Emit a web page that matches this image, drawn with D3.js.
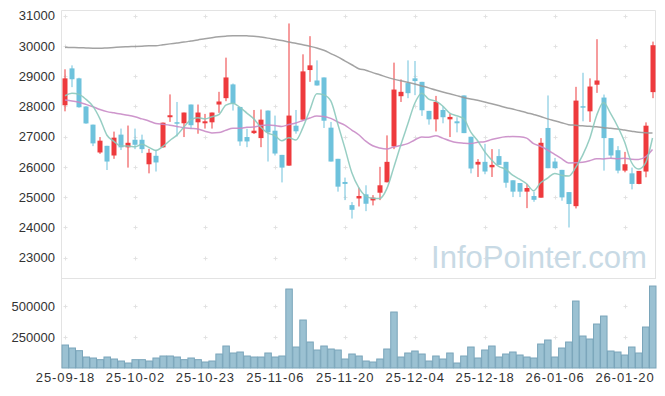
<!DOCTYPE html>
<html>
<head>
<meta charset="utf-8">
<script src="https://cdn.jsdelivr.net/npm/d3@7"></script>
<style>
  body { margin: 0; background: #fff; }
  text { font-family: "Liberation Sans", Arial, sans-serif; }
</style>
</head>
<body>
<svg id="chart" width="665" height="396"></svg>
<script>
// trading days shown on the chart
const dates = [
  '25-09-18','25-09-19','25-09-22','25-09-23','25-09-24','25-09-25','25-09-26','25-09-29','25-09-30','25-10-01',
  '25-10-02','25-10-10','25-10-13','25-10-14','25-10-15','25-10-16','25-10-17','25-10-20','25-10-21','25-10-22',
  '25-10-23','25-10-24','25-10-27','25-10-28','25-10-29','25-10-30','25-10-31','25-11-03','25-11-04','25-11-05',
  '25-11-06','25-11-07','25-11-10','25-11-11','25-11-12','25-11-13','25-11-14','25-11-17','25-11-18','25-11-19',
  '25-11-20','25-11-21','25-11-24','25-11-25','25-11-26','25-11-27','25-11-28','25-12-01','25-12-02','25-12-03',
  '25-12-04','25-12-05','25-12-08','25-12-09','25-12-10','25-12-11','25-12-12','25-12-15','25-12-16','25-12-17',
  '25-12-18','25-12-19','25-12-22','25-12-23','25-12-24','25-12-26','25-12-29','25-12-30','26-01-02','26-01-05',
  '26-01-06','26-01-07','26-01-08','26-01-09','26-01-12','26-01-13','26-01-14','26-01-15','26-01-16','26-01-19',
  '26-01-20','26-01-21','26-01-22','26-01-23','26-01-26'
];

const opens = [
  28040,29260,28930,28000,27400,26480,26700,26380,27070,26650,
  26900,26900,26090,26370,26650,27645,27480,27445,28065,27477,
  27445,27477,28065,28275,28730,27985,26990,27120,26955,27865,
  27200,26400,26045,27365,27565,29205,28860,28960,27300,26270,
  25505,24740,24960,25095,24895,25150,25495,26680,28340,28775,
  28930,28815,27855,27575,27885,27575,27510,28365,27000,26080,
  26170,25990,26360,26170,25560,25470,25185,25040,24985,27290,
  26180,25905,25170,24705,28010,27840,28720,28295,26955,26555,
  25880,25790,25440,25850,28475
];
const highs = [
  29230,29360,28950,28010,27400,26990,26700,27170,27270,27370,
  27270,27070,26600,26570,27470,28400,28150,27800,28065,28065,
  27755,27800,28485,29615,28760,27985,27265,27885,27900,27870,
  27700,26400,30745,27885,29725,30325,29525,28960,27490,26270,
  25650,24840,25315,25395,25070,26005,27045,29450,28895,29525,
  29505,28815,27855,28350,28010,27765,27645,28365,27000,26260,
  26765,26590,26590,26170,25560,25470,25440,25185,26955,28365,
  26300,25905,25170,28650,29115,28930,30225,28395,26955,26690,
  26500,25980,25870,27475,30145
];
const lows = [
  27840,28640,27960,27430,26690,26435,25900,26270,26560,25980,
  26590,26460,25790,25850,26640,27490,27010,26990,27270,27100,
  27270,27270,27790,28175,27865,26700,26655,27090,26655,26180,
  26380,25490,26040,27100,27560,28815,28690,27290,26180,25185,
  24905,24295,24695,24540,24730,24905,25490,26590,28150,28275,
  28375,27690,27400,27175,27445,26990,27145,27120,25790,25670,
  25760,25670,26065,25315,25005,25005,24640,24850,24985,25960,
  25950,24885,24000,24630,27510,27490,28450,25880,26290,25790,
  25825,25260,25430,25660,28275
];
const closes = [
  28930,28900,27975,27440,26780,26870,26180,26970,26650,26800,
  26735,26590,26470,26150,27465,27710,27465,27800,27380,27800,
  27510,27800,28165,28960,28100,26845,26845,27200,27565,27145,
  26445,25980,27700,27180,29160,29360,28695,27530,26180,25350,
  25440,24585,25040,24785,24985,25395,26170,28560,28485,28440,
  28840,27875,27575,28150,27645,27655,27445,27120,25950,26170,
  25850,26070,26070,25480,25185,25185,25305,24915,26800,25960,
  25960,24995,24775,28195,27995,28660,28860,26955,26380,25880,
  26090,25440,25870,27365,30025
];
const volumes = [
  185500,161300,139800,88700,80600,67200,88700,72600,56400,40300,
  67200,67200,56400,80600,96800,96800,88700,67200,80600,67200,
  48400,56400,112900,177400,121000,129000,96800,88700,88700,121000,
  88700,96800,637000,169300,387100,209700,145200,177400,153200,145200,
  72600,112900,96800,56400,48400,72600,153200,451600,88700,121000,
  137100,112900,56400,96800,72600,121000,40300,96800,169300,80600,
  145200,177400,88700,112900,129000,104800,88700,80600,193500,225800,
  88700,161300,209700,540300,258000,233900,354800,419300,137100,129000,
  104800,169300,121000,330600,661200
];

const ma5Head = [28355, 28435, 28400, 28236];
const ma20Head = [
  28215,28180,28140,28070,27990,27900,27830,27790,27750,27710,
  27660,27590,27520,27440,27410,27380,27340,27300,27275
];
// long moving average (grey)
const maLong = [
  29955,29950,29945,29935,29925,29922,29935,29950,29965,29975,
  29985,29995,30005,30010,30040,30070,30100,30130,30165,30200,
  30240,30275,30305,30325,30338,30340,30335,30325,30295,30260,
  30220,30180,30130,30090,30040,29990,29935,29860,29750,29640,
  29510,29380,29250,29200,29120,29050,28970,28905,28850,28800,
  28745,28680,28615,28545,28480,28420,28360,28300,28250,28205,
  28150,28090,28030,27970,27915,27860,27795,27735,27670,27590,
  27530,27465,27400,27380,27360,27345,27330,27300,27280,27255,
  27220,27185,27150,27130,27120
];

const priceTicks = [23000, 24000, 25000, 26000, 27000, 28000, 29000, 30000, 31000];
const volumeTicks = [250000, 500000];
const labelDates = ['25-09-18','25-10-02','25-10-23','25-11-06','25-11-20','25-12-04','25-12-18','26-01-06','26-01-20'];

const ma5 = closes.map((c, i) => i < 4 ? ma5Head[i] : d3.mean(closes.slice(i - 4, i + 1)));
const ma20 = closes.map((c, i) => i < 19 ? ma20Head[i] : d3.mean(closes.slice(i - 19, i + 1)));

const svg = d3.select('#chart');
const plotLeft = 61.5, plotRight = 656, plotTop = 10, plotMid = 278, plotBottom = 368;

const x = d3.scaleBand().domain(dates).range([plotLeft, plotRight]).padding(0);
const cx = d => x(d) + x.bandwidth() / 2;
const yPrice = d3.scaleLinear().domain([22330, 31190]).range([plotMid, plotTop]);
const yVol = d3.scaleLinear().domain([0, 726000]).range([plotBottom, plotMid]);

// grid crosses at tick intersections
const gridGroup = svg.append('g').attr('stroke', '#e2e2e2').attr('stroke-width', 1);
const crossAt = (px, py) => {
  gridGroup.append('path').attr('d', `M${px - 2},${py}H${px + 2}M${px},${py - 2}V${py + 2}`);
};
labelDates.forEach(d => {
  priceTicks.forEach(t => crossAt(Math.round(cx(d)) + 0.5, Math.round(yPrice(t)) + 0.5));
  volumeTicks.forEach(t => crossAt(Math.round(cx(d)) + 0.5, Math.round(yVol(t)) + 0.5));
});

// frame
svg.append('path')
  .attr('d', `M${plotLeft},${plotBottom}V${plotTop + 0.5}H${plotRight - 0.5}V${plotMid}M${plotLeft},${plotMid + 0.5}H${plotRight}`)
  .attr('fill', 'none').attr('stroke', '#e3e3e3').attr('stroke-width', 1);

// watermark
svg.append('text')
  .attr('x', 431).attr('y', 268)
  .attr('textLength', 216).attr('lengthAdjust', 'spacingAndGlyphs')
  .attr('font-size', 32)
  .attr('fill', '#c8dae5')
  .text('InfoPointer.com');

// y axis labels
svg.append('g').selectAll('text')
  .data(priceTicks).enter().append('text')
  .attr('x', 55).attr('y', d => yPrice(d))
  .attr('dy', '0.35em').attr('text-anchor', 'end')
  .attr('font-size', 13).attr('fill', '#333')
  .text(d => d);

svg.append('g').selectAll('text')
  .data(volumeTicks).enter().append('text')
  .attr('x', 55).attr('y', d => yVol(d))
  .attr('dy', '0.35em').attr('text-anchor', 'end')
  .attr('font-size', 13).attr('fill', '#333')
  .text(d => d);

// x axis labels
svg.append('g').selectAll('text')
  .data(labelDates).enter().append('text')
  .attr('x', d => cx(d) + 0.5).attr('y', 382)
  .attr('text-anchor', 'middle')
  .attr('font-size', 13).attr('fill', '#333')
  .attr('letter-spacing', 0.9)
  .text(d => d);

// volume bars
svg.append('g').selectAll('rect')
  .data(volumes).enter().append('rect')
  .attr('x', (d, i) => x(dates[i]) + 0.5)
  .attr('y', d => yVol(d))
  .attr('width', x.bandwidth() - 0.5)
  .attr('height', d => yVol(0) - yVol(d))
  .attr('fill', '#9bc1d2')
  .attr('stroke', '#7aa5ba')
  .attr('stroke-width', 1);

// candles
const up = '#ee3a3d', down = '#6ec2dc';
const candles = svg.append('g').selectAll('g')
  .data(dates).enter().append('g')
  .attr('fill', (d, i) => closes[i] >= opens[i] ? up : down)
  .attr('stroke', 'none');

candles.append('rect')
  .attr('x', d => Math.round(cx(d)) - 0.5)
  .attr('y', (d, i) => yPrice(highs[i]))
  .attr('width', 1)
  .attr('height', (d, i) => yPrice(lows[i]) - yPrice(highs[i]));

candles.append('rect')
  .attr('x', d => Math.round(cx(d)) - 2.5)
  .attr('y', (d, i) => yPrice(Math.max(opens[i], closes[i])))
  .attr('width', 5)
  .attr('height', (d, i) => Math.max(1.5, Math.abs(yPrice(opens[i]) - yPrice(closes[i]))));

// moving-average lines
const maLine = d3.line()
  .x((d, i) => cx(dates[i]))
  .y(d => yPrice(d))
  .curve(d3.curveMonotoneX);

[[maLong, '#999999'], [ma20, '#c98bc6'], [ma5, '#8cc9bd']].forEach(([series, color]) => {
  svg.append('path')
    .attr('d', maLine(series))
    .attr('fill', 'none')
    .attr('stroke', color)
    .attr('stroke-width', 1.5)
    .attr('stroke-opacity', 0.9);
});
</script>
</body>
</html>
